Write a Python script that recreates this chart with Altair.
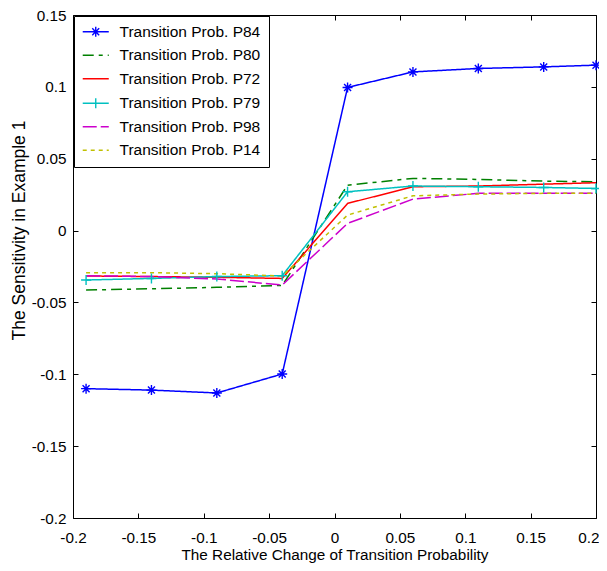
import altair as alt
import pandas as pd

x_vals = [-0.19, -0.14, -0.09, -0.04, 0.01, 0.06, 0.11, 0.16, 0.2]
series_names = [
    "Transition Prob. P84",
    "Transition Prob. P80",
    "Transition Prob. P72",
    "Transition Prob. P79",
    "Transition Prob. P98",
    "Transition Prob. P14",
]
p84 = [-0.110, -0.111, -0.113, -0.0998, 0.0996, 0.1104, 0.1128, 0.1139, 0.1151]
p80 = [-0.0414, -0.0405, -0.0395, -0.0382, 0.0316, 0.0363, 0.0356, 0.0344, 0.0340]
p72 = [-0.0316, -0.0320, -0.0325, -0.0333, 0.0189, 0.0305, 0.0310, 0.0323, 0.0333]
p79 = [-0.0344, -0.0333, -0.0320, -0.0314, 0.0270, 0.0310, 0.0305, 0.0300, 0.0293]
p98 = [-0.0314, -0.0320, -0.0337, -0.0379, 0.0050, 0.0219, 0.0259, 0.0260, 0.0260]
p14 = [-0.0293, -0.0293, -0.0300, -0.0316, 0.0108, 0.0242, 0.0254, 0.0259, 0.0260]
series_values = [p84, p80, p72, p79, p98, p14]

colors = ["#0000ff", "#008000", "#ff0000", "#00c0c0", "#cc00cc", "#c0c000"]
dashes = [[1, 0], [11, 5, 4, 5], [1, 0], [1, 0], [14, 4], [4, 4]]

x_ticks = [-0.2, -0.15, -0.1, -0.05, 0, 0.05, 0.1, 0.15, 0.2]
y_ticks = [-0.2, -0.15, -0.1, -0.05, 0, 0.05, 0.1, 0.15]

rows = []
for k, (name, vals) in enumerate(zip(series_names, series_values)):
    for xv, yv in zip(x_vals, vals):
        rows.append({"x": xv, "y": yv, "series": name, "k": k})
df = pd.DataFrame(rows)

FONT = "Liberation Sans"
xs = alt.Scale(domain=[-0.2, 0.2], nice=False, zero=False)
ys = alt.Scale(domain=[-0.2, 0.15], nice=False, zero=False)
color_scale = alt.Scale(domain=series_names, range=colors)
dash_scale = alt.Scale(domain=series_names, range=dashes)

# marker paths
star_plot = "M0,-1V1M-1,0H1M-0.7,-0.7L0.7,0.7M-0.7,0.7L0.7,-0.7"
plus_plot = "M0,-1V1M-1,0H1"
line_leg = "M-1.17,0H3.17"
star_leg = line_leg + "M1,-0.83V0.83M0.42,-0.58L1.58,0.58M0.42,0.58L1.58,-0.58"
plus_leg = line_leg + "M1,-0.83V0.83"
shape_range = [star_leg, line_leg, line_leg, plus_leg, line_leg, line_leg]

base = alt.Chart(df)

leg = alt.Legend(
    title=None, orient="top-left", offset=1, padding=8,
    strokeColor="black", fillColor="white", cornerRadius=0,
    labelFont=FONT, labelFontSize=15.5, labelColor="black", labelLimit=0,
    symbolSize=144, symbolStrokeWidth=1.4, symbolOpacity=1,
    rowPadding=6.5, labelOffset=22,
)
legend_layer = base.mark_point(
    filled=False, strokeWidth=1.4, size=144, opacity=0
).encode(
    x=alt.X("x:Q", scale=xs, axis=None),
    y=alt.Y("y:Q", scale=ys, axis=None),
    color=alt.Color("series:N", scale=color_scale, legend=leg),
    shape=alt.Shape("series:N", scale=alt.Scale(domain=series_names, range=shape_range), legend=leg),
    strokeDash=alt.StrokeDash("series:N", scale=dash_scale, legend=leg),
)

x_main = alt.X(
    "x:Q", scale=xs,
    axis=alt.Axis(
        orient="bottom", values=x_ticks, labelExpr="'' + datum.value",
        title="The Relative Change of Transition Probability",
        offset=-5, tickSize=5, labelPadding=12, titlePadding=2,
        domain=False, grid=False, labelFlush=False, labelOverlap=False,
        labelAlign={"condition": {"test": "datum.value > 0.19", "value": "right"}, "value": "center"},
        labelOffset={"condition": {"test": "datum.value > 0.19", "value": 3}, "value": 0},
    ),
)
y_main = alt.Y(
    "y:Q", scale=ys,
    axis=alt.Axis(
        orient="left", values=y_ticks, labelExpr="'' + datum.value",
        title="The Sensitivity in Example 1",
        offset=-5, tickSize=5, labelPadding=7, titlePadding=3,
        titleFontSize=17.5, titleY=215,
        domain=False, grid=False, labelFlush=False, labelOverlap=False,
    ),
)

lines = base.mark_line(strokeWidth=1.5, clip=True).encode(
    x=x_main,
    y=y_main,
    color=alt.Color("series:N", scale=color_scale, legend=None),
    strokeDash=alt.StrokeDash("series:N", scale=dash_scale, legend=None),
    detail="k:N",
)

frame_axes = base.mark_point(opacity=0).encode(
    x=alt.X("x:Q", scale=xs, axis=alt.Axis(
        orient="top", values=x_ticks, labels=False, title=None, offset=-5,
        tickSize=5, domain=False, grid=False)),
    y=alt.Y("y:Q", scale=ys, axis=alt.Axis(
        orient="right", values=y_ticks, labels=False, title=None, offset=-5,
        tickSize=5, domain=False, grid=False)),
)

stars = base.transform_filter(alt.datum.series == series_names[0]).mark_point(
    shape=star_plot, size=100, color=colors[0], strokeWidth=1.4, filled=False, opacity=1
).encode(
    x=alt.X("x:Q", scale=xs, axis=None),
    y=alt.Y("y:Q", scale=ys, axis=None),
)
pluses = base.transform_filter(alt.datum.series == series_names[3]).mark_point(
    shape=plus_plot, size=100, color=colors[3], strokeWidth=1.4, filled=False, opacity=1
).encode(
    x=alt.X("x:Q", scale=xs, axis=None),
    y=alt.Y("y:Q", scale=ys, axis=None),
)

chart = alt.layer(legend_layer, lines, stars, pluses, frame_axes).resolve_axis(
    x="independent", y="independent"
).properties(
    width=523, height=503,
    autosize=alt.AutoSizeParams(type="none"),
    padding={"left": 65, "top": 7, "right": 3, "bottom": 46},
).configure_view(
    stroke="black", strokeWidth=1
).configure_axis(
    labelFont=FONT, labelFontSize=15.3, labelColor="black",
    titleFont=FONT, titleFontSize=15.3, titleColor="black", titleFontWeight="normal",
    tickColor="black", tickWidth=1,
)

chart.save("out.html", embed_options={"renderer": "svg", "actions": False})
